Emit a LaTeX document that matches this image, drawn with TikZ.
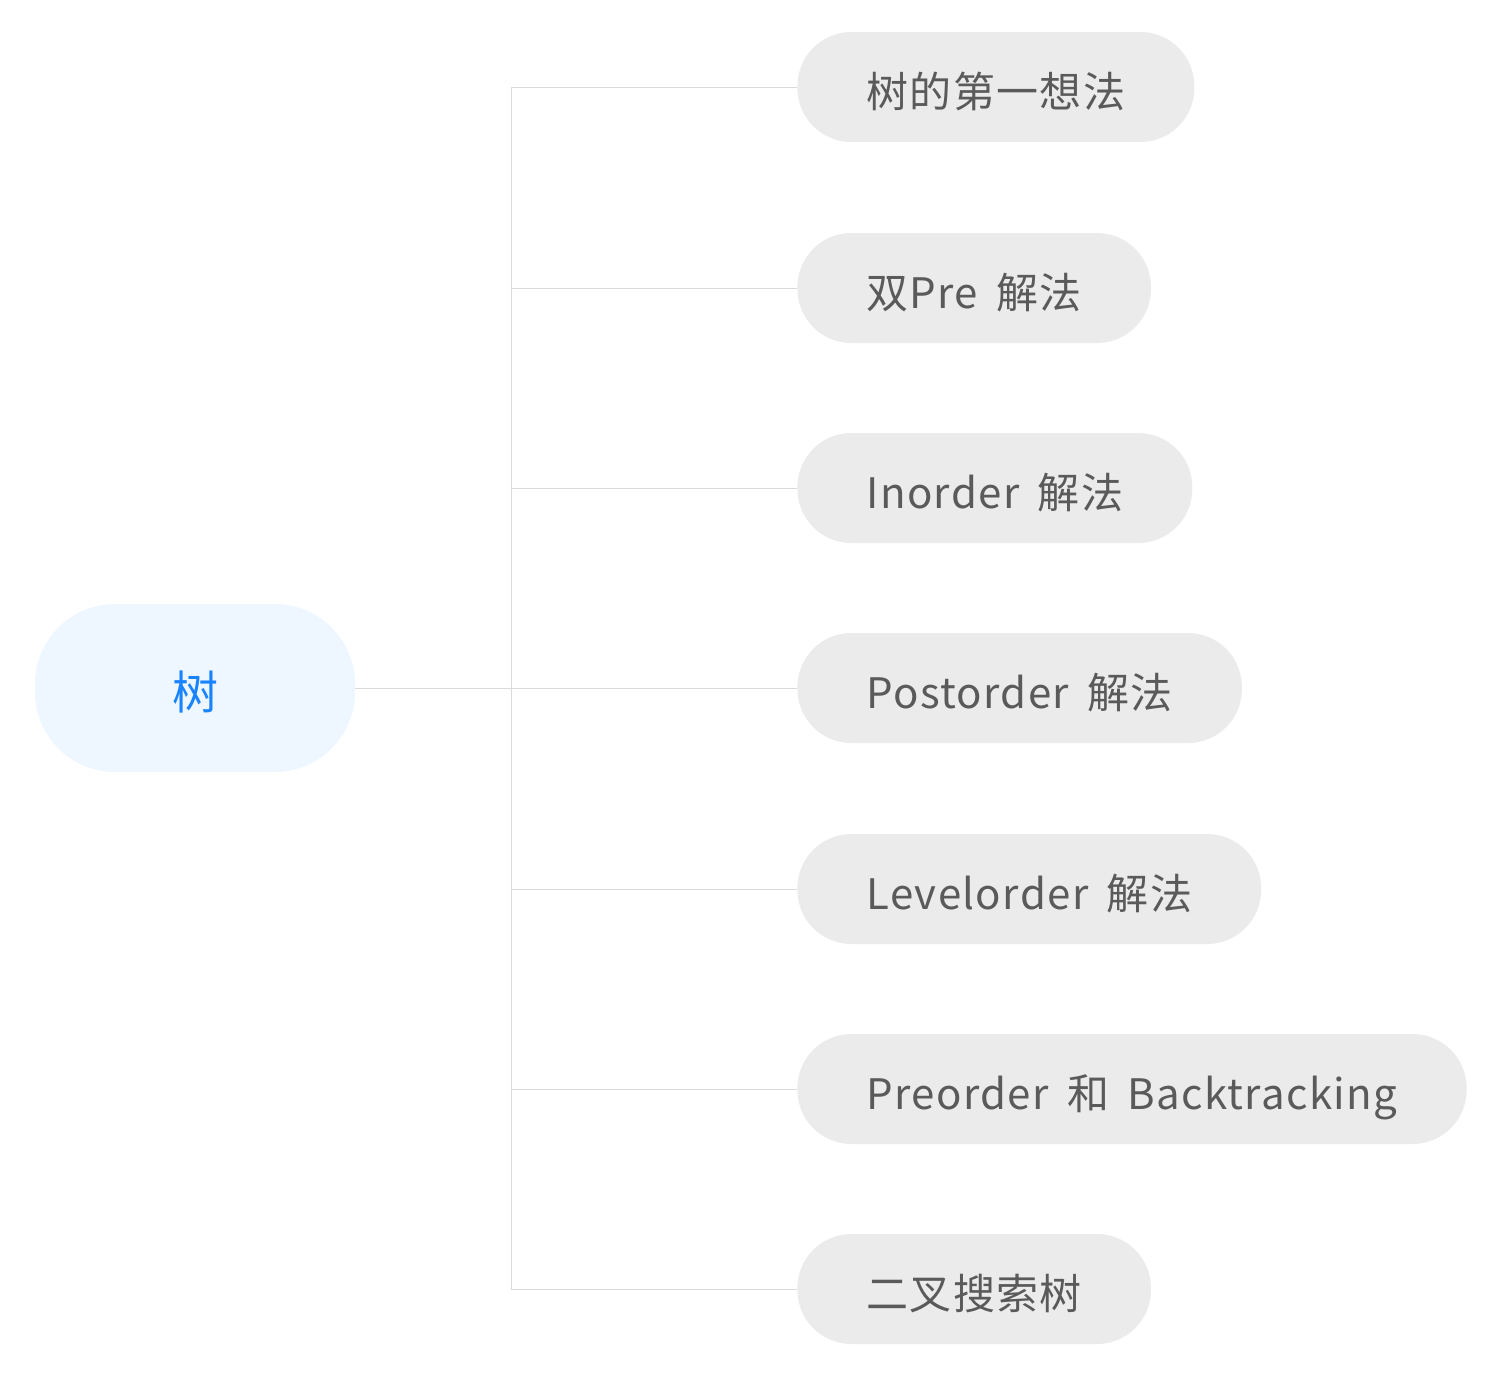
\documentclass[tikz,border=0pt]{standalone}
\usepackage{fontspec}
\setmainfont[LetterSpace=3.3,WordSpace=1.7]{Noto Sans CJK SC}
\usepackage{tikz}
\definecolor{rootfill}{HTML}{EEF6FF}
\definecolor{roottext}{HTML}{1A84FF}
\definecolor{leaffill}{HTML}{EBEBEB}
\definecolor{leaftext}{HTML}{5A5A5A}
\definecolor{branch}{HTML}{DADADA}
\tikzset{
  font={\fontsize{21pt}{24pt}\selectfont}}

\begin{document}
\begin{tikzpicture}[x=0.5pt,y=-0.5pt]
\tikzstyle{rootbox}=[fill=rootfill,text=roottext,rounded corners=40pt,
  minimum width=160pt,minimum height=84pt,inner sep=0pt,
  text height=22pt,text depth=1pt,
  font={\fontsize{23pt}{26pt}\selectfont}]
\tikzstyle{leafbox}=[fill=leaffill,text=leaftext,rounded corners=27pt,
  minimum height=55pt,inner xsep=34.5pt,inner ysep=0pt,anchor=west,
  text height=21pt,text depth=1pt]
\tikzstyle{branchline}=[draw=branch,line width=0.5pt]
\useasboundingbox (0,0) rectangle (1499,1377);
\node [rootbox] (root) at (195,688) {树};
\node [leafbox] (first) at (797,87) {树的第一想法};
\node [leafbox] (pre) at (797,288) {双Pre 解法};
\node [leafbox] (in) at (797,488) {Inorder 解法};
\node [leafbox] (post) at (797,688) {Postorder 解法};
\node [leafbox] (level) at (797,889) {Levelorder 解法};
\node [leafbox] (back) at (797,1089) {Preorder 和 Backtracking};
\node [leafbox] (bst) at (797,1289) {二叉搜索树};
\coordinate (fork) at (511,688);
\draw [branchline] (root.east) -- (fork);
\draw [branchline] (fork |- first.west) -- (fork |- bst.west);
\draw [branchline] (fork |- first.west) -- (first.west);
\draw [branchline] (fork |- pre.west) -- (pre.west);
\draw [branchline] (fork |- in.west) -- (in.west);
\draw [branchline] (fork) -- (post.west);
\draw [branchline] (fork |- level.west) -- (level.west);
\draw [branchline] (fork |- back.west) -- (back.west);
\draw [branchline] (fork |- bst.west) -- (bst.west);
\end{tikzpicture}
\end{document}
